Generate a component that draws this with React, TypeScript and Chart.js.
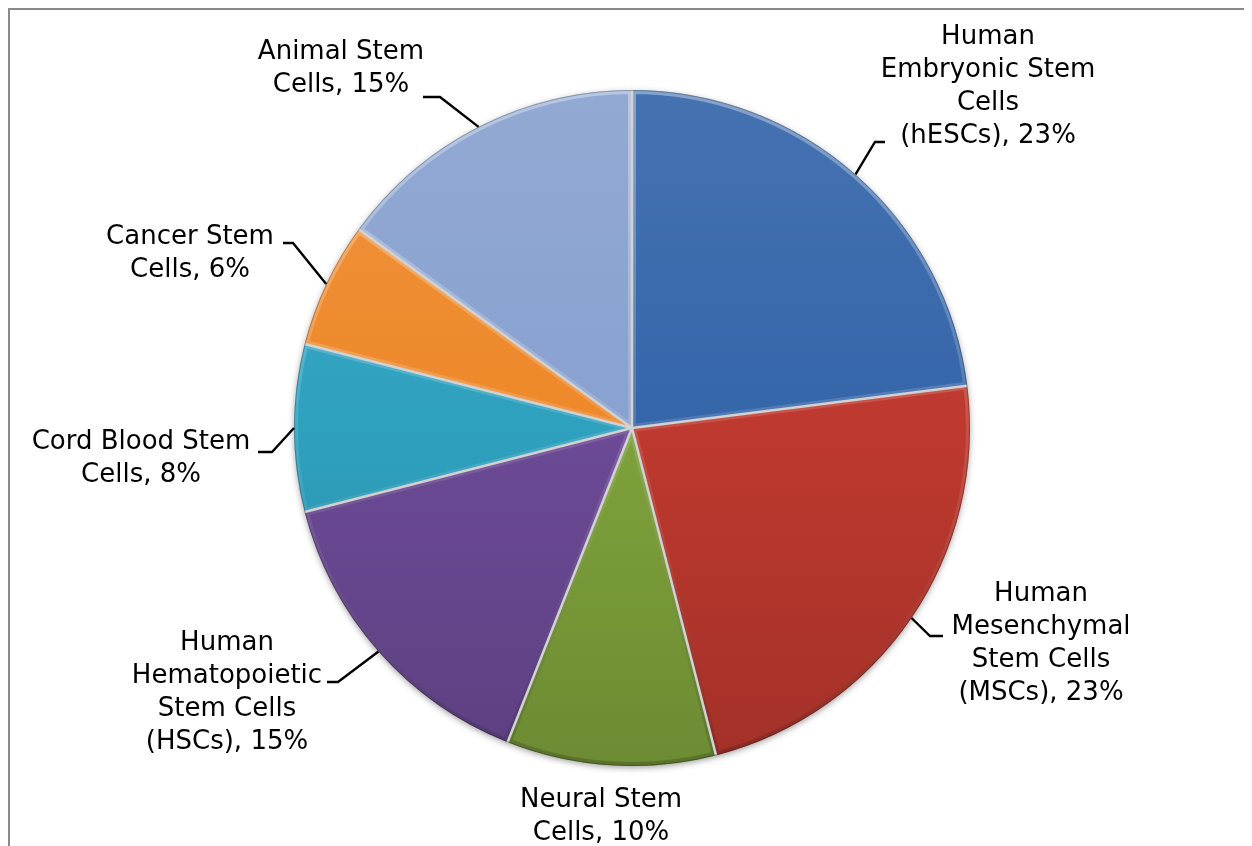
import { useEffect, useRef } from "react";
import { Chart, registerables } from "chart.js";

Chart.register(...registerables);

// Share of publications by stem-cell type (percent), clockwise from 12 o'clock
const categories = [
  "Human Embryonic Stem Cells (hESCs)",
  "Human Mesenchymal Stem Cells (MSCs)",
  "Neural Stem Cells",
  "Human Hematopoietic Stem Cells (HSCs)",
  "Cord Blood Stem Cells",
  "Cancer Stem Cells",
  "Animal Stem Cells",
];
const shares = [23, 23, 10, 15, 8, 6, 15];

// Label text, broken into the lines it is printed on; the value is appended to the last line
const labelLines = [
  ["Human", "Embryonic Stem", "Cells", "(hESCs)"],
  ["Human", "Mesenchymal", "Stem Cells", "(MSCs)"],
  ["Neural Stem", "Cells"],
  ["Human", "Hematopoietic", "Stem Cells", "(HSCs)"],
  ["Cord Blood Stem", "Cells"],
  ["Cancer Stem", "Cells"],
  ["Animal Stem", "Cells"],
];

const sliceColors = ["#3566aa", "#be392f", "#7fa23b", "#6c4a96", "#2ea1bf", "#ee882a", "#88a1cf"];

// Label placement relative to the pie centre: text centre / first line, leader elbow and end
type Placement = { dx: number; dy: number; elbow?: [number, number]; end?: [number, number] };
const placements: Placement[] = [
  { dx: 356, dy: -391, elbow: [243, -286], end: [253, -286] },
  { dx: 409, dy: 166, elbow: [298, 208], end: [311, 208] },
  { dx: -31, dy: 372 },
  { dx: -405, dy: 215, elbow: [-294, 254], end: [-305, 254] },
  { dx: -491, dy: 14, elbow: [-360, 24], end: [-374, 24] },
  { dx: -442, dy: -191, elbow: [-339, -185], end: [-349, -185] },
  { dx: -291, dy: -376, elbow: [-192, -331], end: [-209, -331] },
];

const FONT = '26px "DejaVu Sans", Verdana, sans-serif';
const LINE_H = 33;

function shade(hex: string, amt: number): string {
  const n = parseInt(hex.slice(1), 16);
  let r = (n >> 16) & 255, g = (n >> 8) & 255, b = n & 255;
  const f = (c: number) =>
    Math.round(amt >= 0 ? c + (255 - c) * amt : c * (1 + amt));
  r = f(r); g = f(g); b = f(b);
  return `rgb(${r},${g},${b})`;
}

const pieDecor = {
  id: "pieDecor",
  beforeDatasetsDraw(chart: any) {
    const meta = chart.getDatasetMeta(0);
    const arc = meta.data[0];
    if (!arc) return;
    const { x, y, outerRadius } = arc.getProps(["x", "y", "outerRadius"], true);
    const ctx = chart.ctx;
    ctx.save();
    ctx.shadowColor = "rgba(0,0,0,0.45)";
    ctx.shadowBlur = 7;
    ctx.shadowOffsetY = 2;
    ctx.beginPath();
    ctx.arc(x, y, outerRadius - 1, 0, Math.PI * 2);
    ctx.fillStyle = "#777";
    ctx.fill();
    ctx.restore();
  },
  afterDatasetsDraw(chart: any) {
    const meta = chart.getDatasetMeta(0);
    const ctx = chart.ctx;
    ctx.save();
    // soft bevel inside each slice: light on the upper edges, darker below
    meta.data.forEach((el: any) => {
      const { x, y, startAngle, endAngle, outerRadius } = el.getProps(
        ["x", "y", "startAngle", "endAngle", "outerRadius"], true);
      ctx.save();
      ctx.beginPath();
      ctx.moveTo(x, y);
      ctx.arc(x, y, outerRadius, startAngle, endAngle);
      ctx.closePath();
      ctx.clip();
      const g = ctx.createLinearGradient(0, y - outerRadius, 0, y + outerRadius);
      g.addColorStop(0, "rgba(255,255,255,0.35)");
      g.addColorStop(0.5, "rgba(255,255,255,0.12)");
      g.addColorStop(1, "rgba(0,0,0,0.18)");
      ctx.strokeStyle = g;
      ctx.lineWidth = 8;
      ctx.lineJoin = "round";
      ctx.stroke();
      ctx.restore();
    });
    // slice separators
    meta.data.forEach((el: any) => {
      const { x, y, startAngle, outerRadius } = el.getProps(
        ["x", "y", "startAngle", "outerRadius"], true);
      ctx.beginPath();
      ctx.moveTo(x, y);
      ctx.lineTo(x + Math.cos(startAngle) * outerRadius, y + Math.sin(startAngle) * outerRadius);
      ctx.strokeStyle = "#d2d2d2";
      ctx.lineWidth = 2.5;
      ctx.stroke();
    });
    // outer rim
    const first = meta.data[0].getProps(["x", "y", "outerRadius"], true);
    ctx.beginPath();
    ctx.arc(first.x, first.y, first.outerRadius - 0.5, 0, Math.PI * 2);
    ctx.strokeStyle = "rgba(0,0,0,0.25)";
    ctx.lineWidth = 1;
    ctx.stroke();

    // labels with leader lines
    ctx.font = FONT;
    ctx.textAlign = "center";
    ctx.textBaseline = "middle";
    ctx.fillStyle = "#000";
    meta.data.forEach((el: any, i: number) => {
      const { x, y, startAngle, endAngle, outerRadius } = el.getProps(
        ["x", "y", "startAngle", "endAngle", "outerRadius"], true);
      const p = placements[i];
      const lines = labelLines[i].slice();
      lines[lines.length - 1] = `${lines[lines.length - 1]}, ${shares[i]}%`;
      lines.forEach((ln, j) => ctx.fillText(ln, x + p.dx, y + p.dy + j * LINE_H));
      if (p.elbow && p.end) {
        const mid = (startAngle + endAngle) / 2;
        ctx.beginPath();
        ctx.moveTo(x + Math.cos(mid) * outerRadius, y + Math.sin(mid) * outerRadius);
        ctx.lineTo(x + p.elbow[0], y + p.elbow[1]);
        ctx.lineTo(x + p.end[0], y + p.end[1]);
        ctx.strokeStyle = "#000";
        ctx.lineWidth = 2.4;
        ctx.lineJoin = "miter";
        ctx.stroke();
      }
    });
    ctx.restore();
  },
};

export default function App() {
  const canvasRef = useRef<HTMLCanvasElement | null>(null);

  useEffect(() => {
    document.documentElement.style.overflow = "hidden";
    document.body.style.overflow = "hidden";
    const canvas = canvasRef.current;
    if (!canvas) return;
    const chart = new Chart(canvas, {
      type: "pie",
      data: {
        labels: categories,
        datasets: [
          {
            data: shares,
            backgroundColor: (c: any) => {
              const base = sliceColors[c.dataIndex % sliceColors.length];
              const area = c.chart.chartArea;
              if (!area) return base;
              const g = c.chart.ctx.createLinearGradient(0, area.top, 0, area.bottom);
              g.addColorStop(0, shade(base, 0.08));
              g.addColorStop(0.5, base);
              g.addColorStop(1, shade(base, -0.14));
              return g;
            },
            borderWidth: 0,
            radius: 338,
          } as any,
        ],
      },
      options: {
        responsive: false,
        animation: false,
        layout: { padding: { left: 200, right: 198, top: 80, bottom: 80 } },
        plugins: {
          legend: { display: false },
          tooltip: { enabled: false },
        },
        events: [],
      },
      plugins: [pieDecor],
    });
    return () => chart.destroy();
  }, []);

  return (
    <div
      style={{
        position: "relative",
        width: 1262,
        height: 848,
        boxSizing: "border-box",
        borderTop: "2px solid #8a8a8a",
        borderLeft: "2px solid #8a8a8a",
        background: "#fff",
        overflow: "hidden",
      }}
    >
      <canvas ref={canvasRef} width={1242} height={836} style={{ display: "block" }} />
    </div>
  );
}
